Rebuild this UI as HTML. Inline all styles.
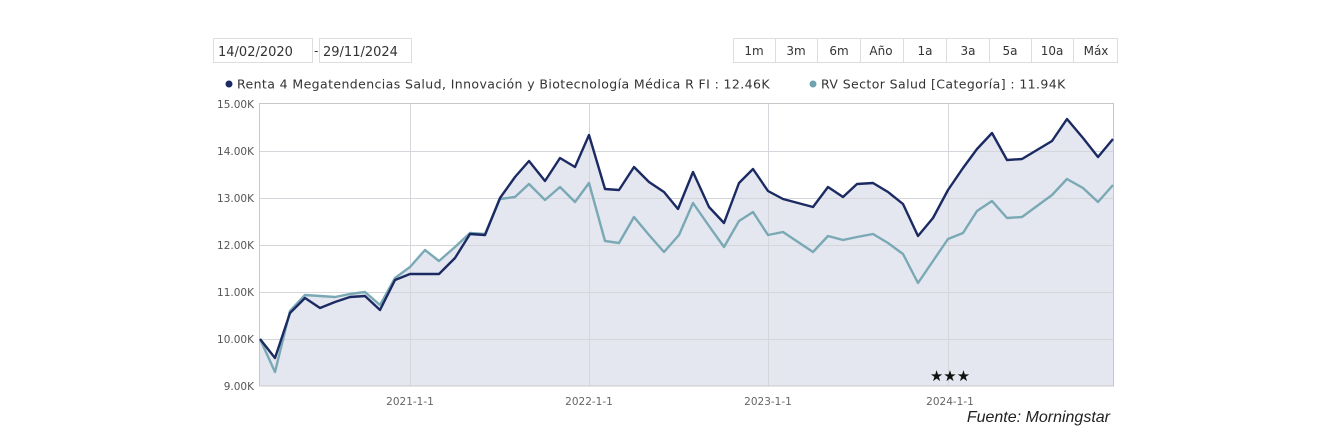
<!DOCTYPE html>
<html><head><meta charset="utf-8"><style>
body{margin:0;background:#fff;width:1334px;height:447px;overflow:hidden;font-family:"DejaVu Sans","Liberation Sans",sans-serif;}
</style></head><body>
<svg width="1334" height="447" xmlns="http://www.w3.org/2000/svg" style="position:absolute;left:0;top:0">
<g font-family="DejaVu Sans, Liberation Sans, sans-serif" fill="#333">
<rect x="213.5" y="38.5" width="99" height="24" fill="#fff" stroke="#ddd"/>
<text x="218" y="56" font-size="13">14/02/2020</text>
<text x="314" y="55" font-size="12">-</text>
<rect x="319.5" y="38.5" width="92" height="24" fill="#fff" stroke="#ddd"/>
<text x="323" y="56" font-size="13">29/11/2024</text>
<rect x="733.5" y="38.5" width="384" height="24" fill="#fff" stroke="#ddd"/>
<g stroke="#ddd"><line x1="775.5" y1="39" x2="775.5" y2="62"/><line x1="817.5" y1="39" x2="817.5" y2="62"/><line x1="860.5" y1="39" x2="860.5" y2="62"/><line x1="903.5" y1="39" x2="903.5" y2="62"/><line x1="946.5" y1="39" x2="946.5" y2="62"/><line x1="989.5" y1="39" x2="989.5" y2="62"/><line x1="1031.5" y1="39" x2="1031.5" y2="62"/><line x1="1073.5" y1="39" x2="1073.5" y2="62"/></g>
<g font-size="12" text-anchor="middle"><text x="754" y="55">1m</text><text x="796" y="55">3m</text><text x="839" y="55">6m</text><text x="881" y="55">Año</text><text x="925" y="55">1a</text><text x="968" y="55">3a</text><text x="1010" y="55">5a</text><text x="1052" y="55">10a</text><text x="1096" y="55">Máx</text></g>
<circle cx="229" cy="84" r="3.5" fill="#1b2a63"/>
<text x="237" y="88.5" font-size="12.5" letter-spacing="0.4">Renta 4 Megatendencias Salud, Innovación y Biotecnología Médica R FI : 12.46K</text>
<circle cx="813" cy="84" r="3.5" fill="#6fa3b1"/>
<text x="821" y="88.5" font-size="12.5" letter-spacing="0.4">RV Sector Salud [Categoría] : 11.94K</text>
</g>
<rect x="259" y="104" width="854" height="282" fill="#fff"/>
<g fill="#e4e7ef">
<polygon points="259,386 260,339 275,358 290,313 305,298 320,308 335,302 350,297 365,296 380,310 395,280 410,274 425,274 439,274 455,258 470,234 485,235 500,198 515,177 529,161 545,181 560,158 575,167 589,135 605,189 619,190 634,167 649,182 664,192 678,209 693,172 709,207 724,223 739,183 753,169 768,191 783,199 798,203 813,207 828,187 843,197 857,184 873,183 888,192 903,204 918,236 933,218 948,190 963,168 977,149 992,133 1007,160 1022,159 1037,150 1052,141 1067,119 1083,138 1098,157 1113,139 1113,386"/>
<polygon points="259,386 260,339 275,372 290,311 305,295 320,296 335,297 350,294 365,292 380,305 395,278 410,267 425,250 439,261 455,247 470,233 485,234 500,199 500,386"/>
</g>
<g stroke="#d4d6db" stroke-width="1">
<line x1="259" y1="151.5" x2="1113" y2="151.5"/><line x1="259" y1="198.5" x2="1113" y2="198.5"/><line x1="259" y1="245.5" x2="1113" y2="245.5"/><line x1="259" y1="292.5" x2="1113" y2="292.5"/><line x1="259" y1="339.5" x2="1113" y2="339.5"/>
<line x1="410.5" y1="104" x2="410.5" y2="386"/><line x1="589.5" y1="104" x2="589.5" y2="386"/><line x1="768.5" y1="104" x2="768.5" y2="386"/><line x1="948.5" y1="104" x2="948.5" y2="386"/>
</g>
<rect x="259.5" y="103.5" width="854" height="282.5" fill="none" stroke="#c8c8c8"/>
<polyline fill="none" stroke="#7aa9b5" stroke-width="2.4" stroke-linejoin="round" points="260,339 275,372 290,311 305,295 320,296 335,297 350,294 365,292 380,305 395,278 410,267 425,250 439,261 455,247 470,233 485,234 500,199 515,197 529,184 545,200 560,187 575,202 589,183 605,241 619,243 634,217 649,235 664,252 679,235 693,203 709,226 724,247 739,221 753,212 768,235 783,232 798,242 813,252 828,236 843,240 857,237 873,234 888,243 903,254 918,283 933,261 948,239 963,233 977,211 992,201 1007,218 1022,217 1037,206 1052,195 1067,179 1083,188 1098,202 1113,185"/>
<polyline fill="none" stroke="#1b2a63" stroke-width="2.4" stroke-linejoin="round" points="260,339 275,358 290,313 305,298 320,308 335,302 350,297 365,296 380,310 395,280 410,274 425,274 439,274 455,258 470,234 485,235 500,198 515,177 529,161 545,181 560,158 575,167 589,135 605,189 619,190 634,167 649,182 664,192 678,209 693,172 709,207 724,223 739,183 753,169 768,191 783,199 798,203 813,207 828,187 843,197 857,184 873,183 888,192 903,204 918,236 933,218 948,190 963,168 977,149 992,133 1007,160 1022,159 1037,150 1052,141 1067,119 1083,138 1098,157 1113,139"/>
<g font-family="DejaVu Sans, Liberation Sans, sans-serif" font-size="10.5" fill="#555" text-anchor="end">
<text x="254" y="108">15.00K</text><text x="254" y="155">14.00K</text><text x="254" y="202">13.00K</text><text x="254" y="249">12.00K</text><text x="254" y="296">11.00K</text><text x="254" y="343">10.00K</text><text x="254" y="390">9.00K</text>
</g>
<g font-family="DejaVu Sans, Liberation Sans, sans-serif" font-size="10.5" fill="#666" text-anchor="middle">
<text x="410" y="405">2021-1-1</text><text x="589" y="405">2022-1-1</text><text x="768" y="405">2023-1-1</text><text x="950" y="405">2024-1-1</text>
</g>
<text x="950" y="381" font-size="15" text-anchor="middle" fill="#111" font-family="DejaVu Sans, sans-serif">★★★</text>
<text x="1110" y="422" font-size="16" font-style="italic" text-anchor="end" fill="#222" font-family="Liberation Sans, sans-serif">Fuente: Morningstar</text>
</svg>
</body></html>
